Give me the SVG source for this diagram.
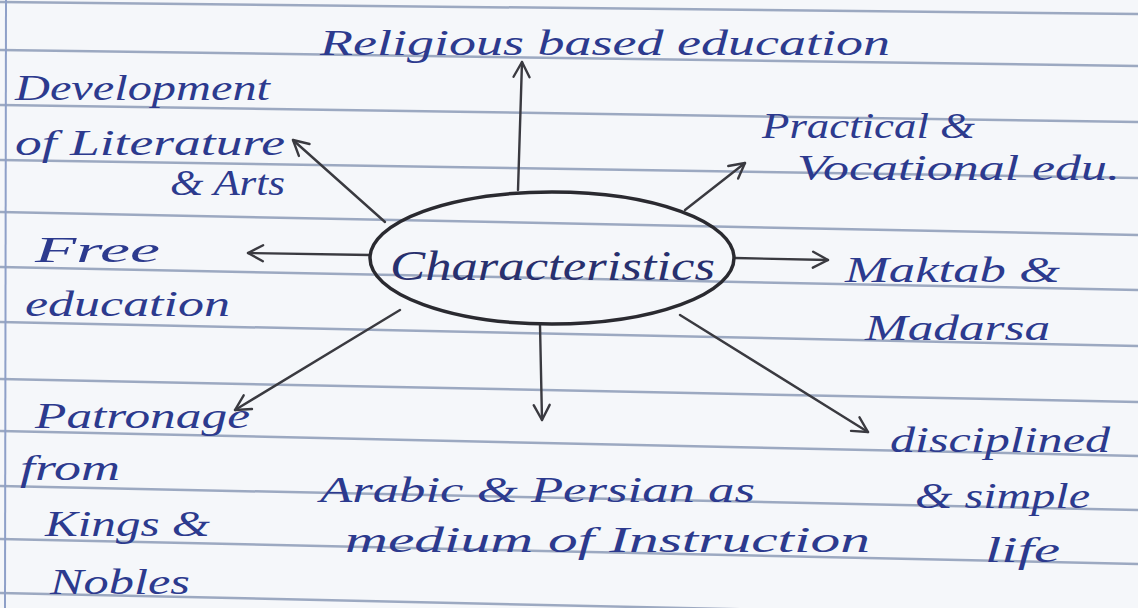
<svg xmlns="http://www.w3.org/2000/svg" width="1138" height="608" viewBox="0 0 1138 608">
<defs>
<marker id="ah" viewBox="0 0 20 20" refX="17" refY="10" markerWidth="20" markerHeight="20" markerUnits="userSpaceOnUse" orient="auto">
<path d="M2,2 L17,10 L2,18" fill="none" stroke="#3a3a40" stroke-width="2.4" stroke-linecap="round" stroke-linejoin="round"/>
</marker>
</defs>
<style>
.rule{stroke:#8796b4;stroke-width:2.5;opacity:0.8}
.t{font-family:"Liberation Serif","DejaVu Serif",serif;font-style:italic;font-size:36px;fill:#2c3a8e}
.c{stroke:#3a3a40;stroke-width:2.4;fill:none;stroke-linecap:round;marker-end:url(#ah)}
</style>
<rect width="1138" height="608" fill="#f5f7fa"/>
<g id="paper">
<line class="rule" x1="0" y1="2" x2="1138" y2="14"/>
<line class="rule" x1="0" y1="50" x2="1138" y2="66"/>
<line class="rule" x1="0" y1="105" x2="1138" y2="122"/>
<line class="rule" x1="0" y1="160" x2="1138" y2="178"/>
<line class="rule" x1="0" y1="212" x2="1138" y2="235"/>
<line class="rule" x1="0" y1="267" x2="1138" y2="290"/>
<line class="rule" x1="0" y1="322" x2="1138" y2="346"/>
<line class="rule" x1="0" y1="379" x2="1138" y2="402"/>
<line class="rule" x1="0" y1="431" x2="1138" y2="456"/>
<line class="rule" x1="0" y1="486" x2="1138" y2="510"/>
<line class="rule" x1="0" y1="539" x2="1138" y2="564"/>
<line class="rule" x1="0" y1="593" x2="1138" y2="618"/>
<line x1="6" y1="0" x2="5" y2="608" stroke="#8ea0c8" stroke-width="2"/>
</g>
<g id="connectors">
<path class="c" d="M518,190 L522,62"/>
<path class="c" d="M385,222 L293,140"/>
<path class="c" d="M685,210 L745,163"/>
<path class="c" d="M370,255 L248,253"/>
<path class="c" d="M735,258 L828,260"/>
<path class="c" d="M400,310 L235,410"/>
<path class="c" d="M540,325 L542,420"/>
<path class="c" d="M680,315 L868,432"/>
</g>
<g id="center">
<ellipse cx="552" cy="258" rx="182" ry="66" fill="none" stroke="#2a2a30" stroke-width="3.5"/>
<text class="t" x="390" y="280" textLength="325" lengthAdjust="spacingAndGlyphs" style="font-size:42px;fill:#28306e">Characteristics</text>
</g>
<g id="religious">
<text class="t" x="320" y="55" textLength="570" lengthAdjust="spacingAndGlyphs">Religious based education</text>
</g>
<g id="literature">
<text class="t" x="15" y="100" textLength="255" lengthAdjust="spacingAndGlyphs">Development</text>
<text class="t" x="15" y="155" textLength="270" lengthAdjust="spacingAndGlyphs">of Literature</text>
<text class="t" x="170" y="195" textLength="115" lengthAdjust="spacingAndGlyphs">&amp; Arts</text>
</g>
<g id="practical">
<text class="t" x="762" y="138" textLength="213" lengthAdjust="spacingAndGlyphs">Practical &amp;</text>
<text class="t" x="797" y="180" textLength="323" lengthAdjust="spacingAndGlyphs">Vocational edu.</text>
</g>
<g id="free">
<text class="t" x="35" y="262" textLength="125" lengthAdjust="spacingAndGlyphs">Free</text>
<text class="t" x="25" y="316" textLength="205" lengthAdjust="spacingAndGlyphs">education</text>
</g>
<g id="maktab">
<text class="t" x="845" y="282" textLength="215" lengthAdjust="spacingAndGlyphs">Maktab &amp;</text>
<text class="t" x="865" y="340" textLength="185" lengthAdjust="spacingAndGlyphs">Madarsa</text>
</g>
<g id="patronage">
<text class="t" x="35" y="428" textLength="215" lengthAdjust="spacingAndGlyphs">Patronage</text>
<text class="t" x="20" y="480" textLength="100" lengthAdjust="spacingAndGlyphs">from</text>
<text class="t" x="45" y="536" textLength="165" lengthAdjust="spacingAndGlyphs">Kings &amp;</text>
<text class="t" x="50" y="594" textLength="140" lengthAdjust="spacingAndGlyphs">Nobles</text>
</g>
<g id="arabic">
<text class="t" x="320" y="502" textLength="435" lengthAdjust="spacingAndGlyphs">Arabic &amp; Persian as</text>
<text class="t" x="345" y="552" textLength="525" lengthAdjust="spacingAndGlyphs">medium of Instruction</text>
</g>
<g id="disciplined">
<text class="t" x="890" y="452" textLength="220" lengthAdjust="spacingAndGlyphs">disciplined</text>
<text class="t" x="915" y="508" textLength="175" lengthAdjust="spacingAndGlyphs">&amp; simple</text>
<text class="t" x="985" y="562" textLength="75" lengthAdjust="spacingAndGlyphs">life</text>
</g>
</svg>
